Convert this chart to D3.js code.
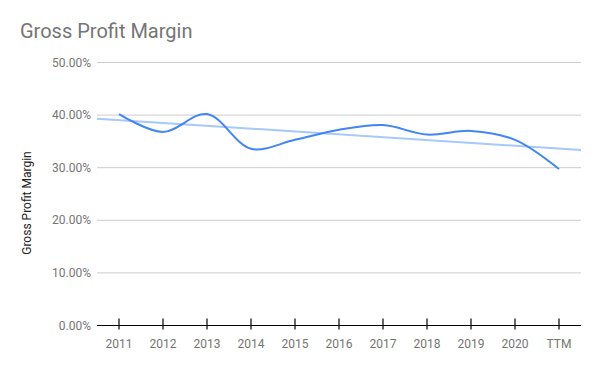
<!DOCTYPE html>
<html>
<head>
<meta charset="utf-8">
<script src="https://cdn.jsdelivr.net/npm/d3@7"></script>
<style>
  body { margin: 0; background: #fff; }
  svg { font-family: Roboto, "Noto Sans", sans-serif; }
</style>
</head>
<body>
<div id="chart"></div>
<script>
    // chart data
    const years = ["2011", "2012", "2013", "2014", "2015", "2016", "2017", "2018", "2019", "2020", "TTM"];
    const margins = [40.2, 36.8, 40.2, 33.6, 35.3, 37.2, 38.1, 36.3, 37.0, 35.3, 29.75];
    const yTicks = [0, 10, 20, 30, 40, 50];

    const width = 600, height = 371;
    const plot = { left: 97, right: 581, top: 62.5, bottom: 325.5 };

    let svg = d3.select("#chart").append("svg")
        .attr("width", width).attr("height", height);

    let x = d3.scaleBand().domain(years).range([plot.left, plot.right]);
    let y = d3.scaleLinear().domain([0, 50]).range([plot.bottom, plot.top]);
    let cx = d => x(d) + x.bandwidth() / 2;

    // title
    svg.append("text")
        .attr("x", 20).attr("y", 38)
        .attr("font-size", 20).attr("fill", "#757575")
        .text("Gross Profit Margin");

    // gridlines + labels
    const grid = svg.append("g");
    yTicks.forEach(t => {
        if (t > 0) {
            grid.append("line")
                .attr("x1", plot.left).attr("x2", plot.right)
                .attr("y1", y(t)).attr("y2", y(t))
                .attr("stroke", "#cccccc").attr("stroke-width", 1);
        }
        grid.append("text")
            .attr("x", 91).attr("y", y(t) + 4)
            .attr("text-anchor", "end")
            .attr("font-size", 12).attr("fill", "#757575")
            .text(t.toFixed(2) + "%");
    });

    // y axis title
    svg.append("text")
        .attr("transform", "translate(31,203) rotate(-90)")
        .attr("text-anchor", "middle")
        .attr("font-size", 12).attr("fill", "#222")
        .text("Gross Profit Margin");

    // x axis baseline and ticks
    svg.append("line")
        .attr("x1", plot.left).attr("x2", plot.right)
        .attr("y1", plot.bottom).attr("y2", plot.bottom)
        .attr("stroke", "#000").attr("stroke-width", 1.2);

    years.forEach(d => {
        svg.append("line")
            .attr("x1", cx(d)).attr("x2", cx(d))
            .attr("y1", plot.bottom - 7).attr("y2", plot.bottom + 4)
            .attr("stroke", "#000").attr("stroke-width", 1.2);
        svg.append("text")
            .attr("x", cx(d)).attr("y", 348)
            .attr("text-anchor", "middle")
            .attr("font-size", 12).attr("fill", "#757575")
            .text(d);
    });

    // linear trendline (least squares over category index)
    let n = margins.length;
    let mx = d3.mean(d3.range(n));
    let my = d3.mean(margins);
    let slope = d3.sum(margins, (v, i) => (i - mx) * (v - my)) /
                d3.sum(d3.range(n), i => (i - mx) * (i - mx));
    let trendAt = i => my + slope * (i - mx);

    svg.append("line")
        .attr("x1", plot.left).attr("x2", plot.right)
        .attr("y1", y(trendAt(-0.5))).attr("y2", y(trendAt(n - 0.5)))
        .attr("stroke", "#a6c8fb").attr("stroke-width", 2);

    // main smoothed line
    let line = d3.line()
        .x((v, i) => cx(years[i]))
        .y(v => y(v))
        .curve(d3.curveCatmullRom.alpha(0.5));

    svg.append("path")
        .datum(margins)
        .attr("d", line)
        .attr("fill", "none")
        .attr("stroke", "#4285f4")
        .attr("stroke-width", 2);
</script>
</body>
</html>
